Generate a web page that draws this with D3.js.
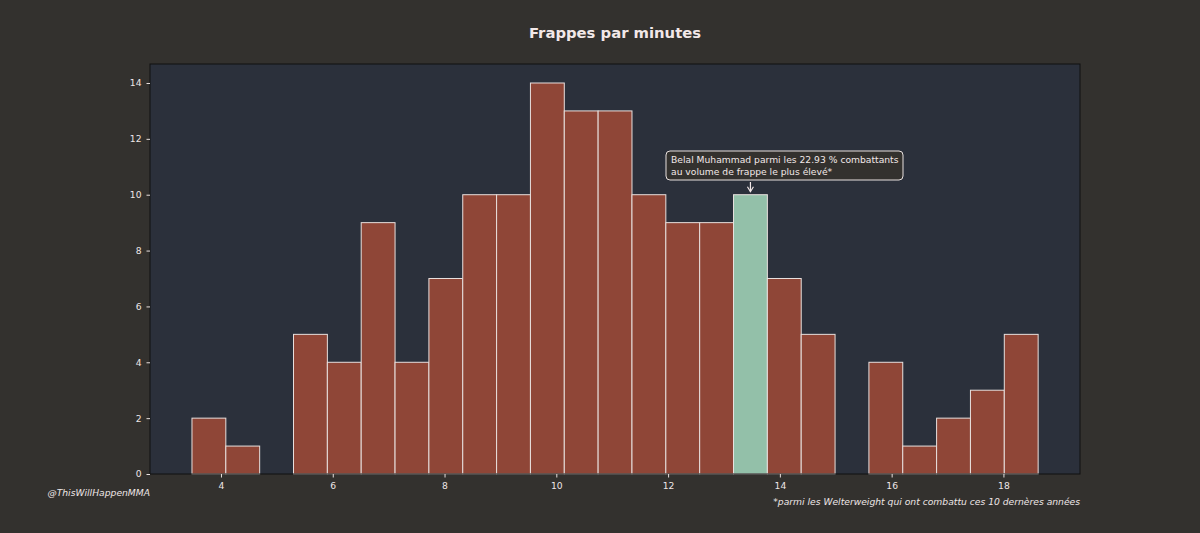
<!DOCTYPE html>
<html>
<head>
<meta charset="utf-8">
<script src="https://cdn.jsdelivr.net/npm/d3@7"></script>
<style>
  body { margin: 0; background: #33312e; }
  svg text { font-family: "DejaVu Sans", sans-serif; }
</style>
</head>
<body>
<svg id="chart"></svg>
<script>
// Histogram bins (strikes per minute) and counts
const binStart = 3.481;
const binWidth = 0.6056;
const counts = [2, 1, 0, 5, 4, 9, 4, 7, 10, 10, 14, 13, 13, 10, 9, 9, 10, 7, 5, 0, 4, 1, 2, 3, 5];
const highlightIndex = 16;
const xTicks = [4, 6, 8, 10, 12, 14, 16, 18];
const yTicks = [0, 2, 4, 6, 8, 10, 12, 14];

const bins = counts.map((c, i) => ({
  x0: binStart + i * binWidth,
  x1: binStart + (i + 1) * binWidth,
  count: c,
  highlight: i === highlightIndex
}));

const W = 1200, H = 533;
const margin = { top: 64, right: 120, bottom: 59, left: 150 };
const width = W - margin.left - margin.right;
const height = H - margin.top - margin.bottom;

const root = d3.select('#chart').attr('width', W).attr('height', H);
root.append('rect').attr('width', W).attr('height', H).attr('fill', '#33312e');

const svg = root.append('g').attr('transform', `translate(${margin.left}, ${margin.top})`);

const xScale = d3.scaleLinear().domain([2.73, 19.37]).range([0, width]);
const yScale = d3.scaleLinear().domain([0, 14.68]).range([height, 0]);

svg.append('rect')
  .attr('width', width).attr('height', height)
  .attr('fill', '#2b303b');

// Bars
svg.selectAll('.bar')
  .data(bins)
  .enter()
  .append('rect')
  .attr('class', 'bar')
  .attr('x', d => xScale(d.x0))
  .attr('y', d => yScale(d.count))
  .attr('width', d => xScale(d.x1) - xScale(d.x0))
  .attr('height', d => height - yScale(d.count))
  .attr('fill', d => d.highlight ? '#93c0a9' : '#8f4637')
  .attr('stroke', '#e8e0de')
  .attr('stroke-width', 1);

// Frame
svg.append('rect')
  .attr('width', width).attr('height', height)
  .attr('fill', 'none').attr('stroke', '#111').attr('stroke-width', 1);

// Axes
const xAxis = svg.append('g')
  .attr('transform', `translate(0, ${height})`)
  .call(d3.axisBottom(xScale).tickValues(xTicks).tickSize(3.5).tickPadding(5));
const yAxis = svg.append('g')
  .call(d3.axisLeft(yScale).tickValues(yTicks).tickSize(3.5).tickPadding(5));

[xAxis, yAxis].forEach(a => {
  a.select('.domain').remove();
  a.selectAll('line').attr('stroke', '#e8e0de');
  a.selectAll('text').attr('fill', '#eee6e6').style('font-size', '9.2px');
});

// Title
root.append('text')
  .attr('x', 615).attr('y', 38)
  .attr('text-anchor', 'middle')
  .attr('fill', '#f2e8e8')
  .style('font-size', '14.8px').style('font-weight', 'bold')
  .text('Frappes par minutes');

// Annotation
const hb = bins[highlightIndex];
const ax = xScale((hb.x0 + hb.x1) / 2);
const ay = yScale(hb.count);
const note = svg.append('g');
note.append('rect')
  .attr('x', 516).attr('y', 87)
  .attr('width', 237).attr('height', 29)
  .attr('rx', 4)
  .attr('fill', '#33312e')
  .attr('stroke', '#e8e0de').attr('stroke-width', 1);
note.append('text')
  .attr('x', 521).attr('y', 99)
  .attr('fill', '#f2e8e8').style('font-size', '9.2px')
  .text('Belal Muhammad parmi les 22.93 % combattants');
note.append('text')
  .attr('x', 521).attr('y', 111)
  .attr('fill', '#f2e8e8').style('font-size', '9.2px')
  .text('au volume de frappe le plus élevé*');
note.append('line')
  .attr('x1', ax).attr('y1', 118).attr('x2', ax).attr('y2', ay - 3)
  .attr('stroke', '#f2e8e8').attr('stroke-width', 1.2);
note.append('path')
  .attr('d', `M${ax - 3},${ay - 8} L${ax},${ay - 3} L${ax + 3},${ay - 8}`)
  .attr('fill', 'none').attr('stroke', '#f2e8e8').attr('stroke-width', 1.2);

// Footer
root.append('text')
  .attr('x', 150).attr('y', 496)
  .attr('text-anchor', 'end')
  .attr('fill', '#eee6e6').style('font-size', '9.2px').style('font-style', 'italic')
  .text('@ThisWillHappenMMA');
root.append('text')
  .attr('x', 1080).attr('y', 505)
  .attr('text-anchor', 'end')
  .attr('fill', '#eee6e6').style('font-size', '9.2px').style('font-style', 'italic')
  .text('*parmi les Welterweight qui ont combattu ces 10 dernères années');
</script>
</body>
</html>
